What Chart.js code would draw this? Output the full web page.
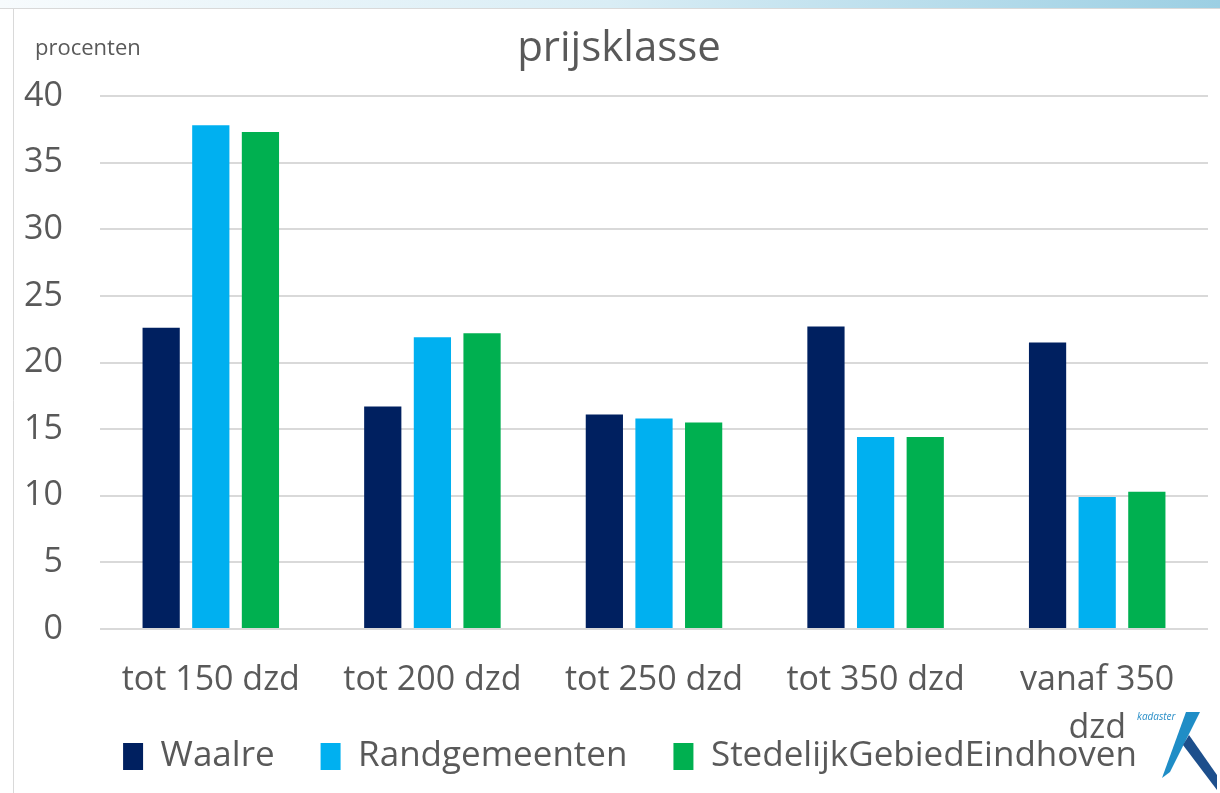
<!DOCTYPE html>
<html>
<head>
<meta charset="utf-8">
<script src="https://cdn.jsdelivr.net/npm/chart.js@4/dist/chart.umd.min.js"></script>
<style>
  html, body { margin: 0; padding: 0; background: #ffffff; }
  #wrap { position: relative; width: 1220px; height: 793px; }
  canvas { display: block; }
</style>
</head>
<body>
<div id="wrap"><canvas id="c" width="1220" height="793"></canvas></div>
<script>
const categories = ['tot 150 dzd', 'tot 200 dzd', 'tot 250 dzd', 'tot 350 dzd', ['vanaf 350', 'dzd']];
const seriesNames = ['Waalre', 'Randgemeenten', 'StedelijkGebiedEindhoven'];
const waalre = [22.6, 16.7, 16.1, 22.7, 21.5];
const randgemeenten = [37.8, 21.9, 15.8, 14.4, 9.9];
const stedelijk = [37.3, 22.2, 15.5, 14.4, 10.3];
const yTicks = [0, 5, 10, 15, 20, 25, 30, 35, 40];
const titleText = 'prijsklasse';
const yUnitText = 'procenten';

const colors = ['#002060', '#00B0F0', '#00B050'];
const textColor = '#595959';
const FONT = "'Open Sans', 'Liberation Sans', sans-serif";

const decorPlugin = {
  id: 'decor',
  afterLayout(chart) {
    // inset the legend row and title like the reference
    if (chart.legend) {
      chart.legend.left = 52;
      chart.legend.width = chart.legend.right - chart.legend.left;
    }
    if (chart.titleBlock) {
      chart.titleBlock.left = 30;
      chart.titleBlock.width = chart.titleBlock.right - chart.titleBlock.left;
    }
  },
  beforeDraw(chart) {
    const ctx = chart.ctx;
    ctx.save();
    ctx.fillStyle = '#ffffff';
    ctx.fillRect(0, 0, chart.width, chart.height);
    const g = ctx.createLinearGradient(0, 0, chart.width, 0);
    g.addColorStop(0, '#f7fbfd');
    g.addColorStop(0.5, '#d9edf5');
    g.addColorStop(1, '#9ccfe3');
    ctx.fillStyle = g;
    ctx.fillRect(0, 0, chart.width, 8);
    ctx.strokeStyle = '#d9d9d9';
    ctx.lineWidth = 1;
    ctx.beginPath();
    ctx.moveTo(0, 8.5); ctx.lineTo(chart.width, 8.5);
    ctx.moveTo(13.5, 8.5); ctx.lineTo(13.5, chart.height);
    ctx.stroke();
    ctx.restore();
  },
  afterDraw(chart) {
    const ctx = chart.ctx;
    ctx.save();
    ctx.fillStyle = textColor;
    ctx.font = "22px " + FONT;
    ctx.textAlign = 'left';
    ctx.textBaseline = 'alphabetic';
    ctx.fillText(yUnitText, 35, 55);
    // kadaster logo
    ctx.fillStyle = '#2a8fc8';
    ctx.font = "italic 10px " + FONT;
    ctx.fillText('kadaster', 1137, 720);
    ctx.fillStyle = '#1f8dc6';
    ctx.beginPath();
    ctx.moveTo(1186, 712); ctx.lineTo(1200, 712); ctx.lineTo(1170, 772); ctx.lineTo(1162, 778);
    ctx.closePath(); ctx.fill();
    ctx.fillStyle = '#1d4f8c';
    ctx.beginPath();
    ctx.moveTo(1183, 745); ctx.lineTo(1189, 735); ctx.lineTo(1217, 775); ctx.lineTo(1217, 790);
    ctx.closePath(); ctx.fill();
    ctx.restore();
  }
};

const ds = [waalre, randgemeenten, stedelijk].map((d, i) => ({
  label: seriesNames[i],
  data: d,
  backgroundColor: colors[i],
  borderWidth: 0,
  categoryPercentage: 0.672,
  barPercentage: 0.75
}));

new Chart(document.getElementById('c'), {
  type: 'bar',
  data: { labels: categories, datasets: ds },
  plugins: [decorPlugin],
  options: {
    responsive: false,
    animation: false,
    devicePixelRatio: 1,
    layout: { padding: { left: 0, right: 12, top: 0, bottom: 9 } },
    plugins: {
      title: {
        display: true,
        text: titleText,
        color: textColor,
        font: { family: FONT, size: 42, weight: 'normal', lineHeight: 1.2 },
        padding: { top: 24, bottom: 21.6 }
      },
      legend: {
        display: true,
        position: 'bottom',
        labels: {
          color: textColor,
          font: { family: FONT, size: 35 },
          boxWidth: 20,
          boxHeight: 27,
          padding: 46
        }
      },
      tooltip: { enabled: false }
    },
    scales: {
      x: {
        grid: { display: false, drawTicks: false },
        border: { display: false },
        ticks: {
          color: textColor,
          font: { family: FONT, size: 34, lineHeight: 1.4 },
          mirror: true,
          padding: -75.6,
          maxRotation: 0,
          autoSkip: false
        },
        afterFit(scale) { scale.height = 64; }
      },
      y: {
        min: 0,
        max: 40,
        afterBuildTicks(scale) { scale.ticks = yTicks.map(v => ({ value: v })); },
        grid: { color: '#d9d9d9', lineWidth: 2, drawTicks: false },
        border: { display: false },
        ticks: {
          color: textColor,
          font: { family: FONT, size: 34 },
          padding: 37
        },
        afterFit(scale) { scale.width = 100; }
      }
    }
  }
});
</script>
</body>
</html>
